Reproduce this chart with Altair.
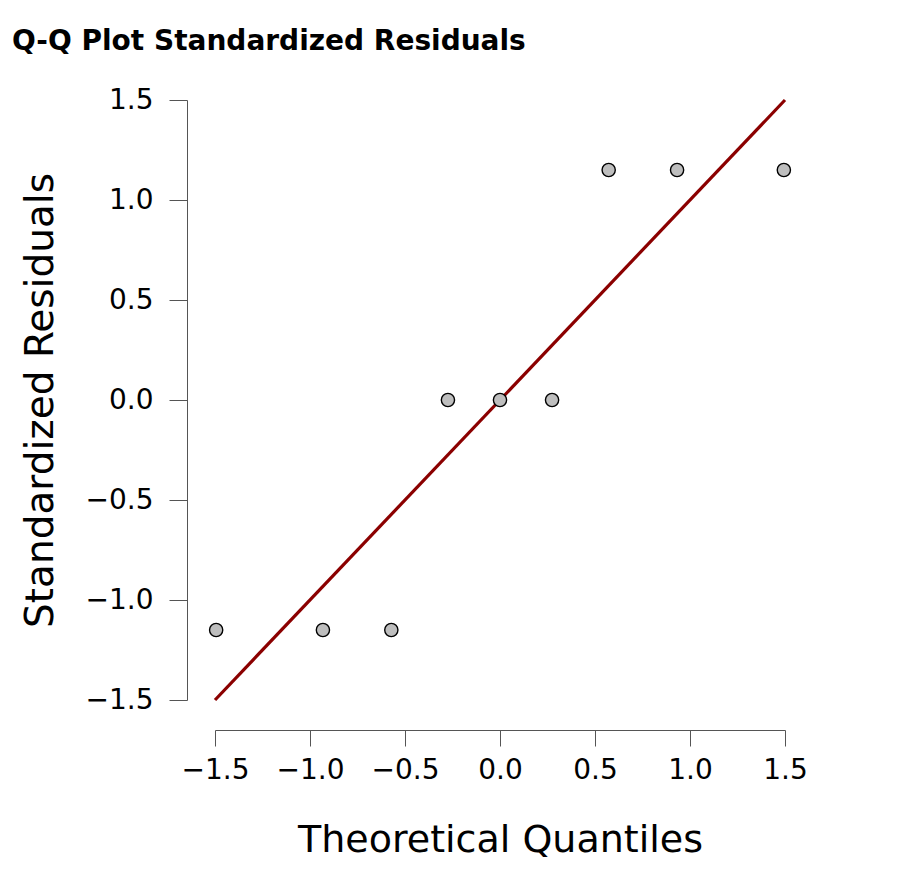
import altair as alt
import pandas as pd

# Data
theoretical = [-1.494, -0.932, -0.572, -0.274, 0.0, 0.274, 0.572, 0.932, 1.494]
residuals = [-1.15, -1.15, -1.15, 0.0, 0.0, 0.0, 1.15, 1.15, 1.15]
line_x = [-1.5, 1.5]
line_y = [-1.5, 1.5]
tick_values = [-1.5, -1.0, -0.5, 0.0, 0.5, 1.0, 1.5]

points = pd.DataFrame({"x": theoretical, "y": residuals})
ref = pd.DataFrame({"x": line_x, "y": line_y})

FONT = "DejaVu Sans"
AX = "#555555"

xscale = alt.Scale(domain=[-1.5, 1.5], nice=False, zero=False)
yscale = alt.Scale(domain=[-1.5, 1.5], nice=False, zero=False)

xaxis = alt.Axis(
    values=tick_values, format=".1f", grid=False, offset=30,
    domainColor=AX, tickColor=AX, tickSize=16, labelPadding=10,
    labelFontSize=28, labelFont=FONT, labelColor="black",
    labelOverlap=False, labelFlush=False,
    title="Theoretical Quantiles", titleFont=FONT, titleFontSize=38,
    titleFontWeight="normal", titleColor="black",
    titleX=285, titleY=121, titleBaseline="alphabetic", titleAlign="center",
)
yaxis = alt.Axis(
    values=tick_values, format=".1f", grid=False, offset=28,
    domainColor=AX, tickColor=AX, tickSize=18, labelPadding=16,
    labelFontSize=28, labelFont=FONT, labelColor="black",
    labelOverlap=False, labelFlush=False,
    title="Standardized Residuals", titleFont=FONT, titleFontSize=39,
    titleFontWeight="normal", titleColor="black",
    titleX=-147, titleY=300, titleAngle=-90, titleBaseline="middle", titleAlign="center",
)

line = alt.Chart(ref).mark_line(color="#8B0000", strokeWidth=3.2).encode(
    x=alt.X("x:Q", scale=xscale, axis=xaxis),
    y=alt.Y("y:Q", scale=yscale, axis=yaxis),
)

pts = alt.Chart(points).mark_point(
    filled=True, fill="#BEBEBE", stroke="black", strokeWidth=1.4, size=175,
    shape="circle", opacity=1,
).encode(
    x=alt.X("x:Q", scale=xscale, axis=xaxis),
    y=alt.Y("y:Q", scale=yscale, axis=yaxis),
)

chart = alt.layer(line, pts).properties(
    width=570, height=600,
    background="white",
    padding={"left": 215, "top": 100, "right": 131, "bottom": 188},
    autosize=alt.AutoSizeParams(type="none"),
    title=alt.TitleParams(
        "Q-Q Plot Standardized Residuals", anchor="start", frame="group",
        font=FONT, fontSize=28, fontWeight="bold", color="black",
        dx=-203, dy=-30, offset=0,
    ),
).configure_view(strokeWidth=0, stroke="transparent")

chart.save("out.html", embed_options={"renderer": "svg", "actions": False})
